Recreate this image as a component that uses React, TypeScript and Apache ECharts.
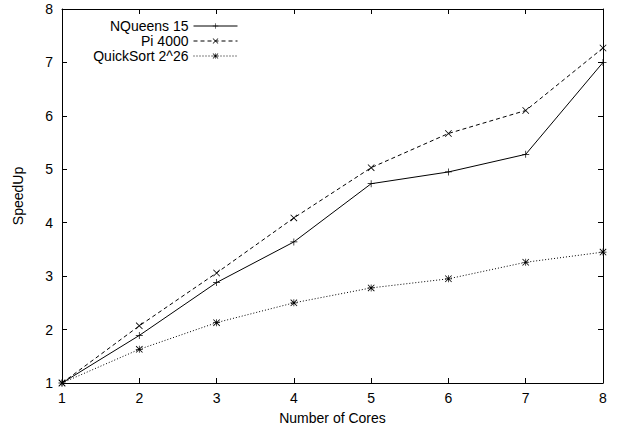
import React, { useEffect, useRef } from "react";
import * as echarts from "echarts";

const cores = [1, 2, 3, 4, 5, 6, 7, 8];
const nqueens = [1, 1.89, 2.88, 3.64, 4.73, 4.95, 5.28, 7.0];
const pi = [1, 2.07, 3.06, 4.09, 5.03, 5.67, 6.1, 7.27];
const quicksort = [1, 1.63, 2.13, 2.5, 2.78, 2.95, 3.26, 3.45];
const seriesNames = ["NQueens 15", "Pi 4000", "QuickSort 2^26"];

const PLUS = "path://M4.5 0h1v10h-1z M0 4.5h10v1h-10z";
const CROSS = "path://M0 0.8L0.8 0L10 9.2L9.2 10Z M9.2 0L10 0.8L0.8 10L0 9.2Z";
const STAR =
  "path://M4.5 0h1v10h-1z M0 4.5h10v1h-10z M0 0.8L0.8 0L10 9.2L9.2 10Z M9.2 0L10 0.8L0.8 10L0 9.2Z";

const FONT = "Liberation Sans";
const FS = 14;

export default function App() {
  const ref = useRef<HTMLDivElement>(null);
  useEffect(() => {
    if (!ref.current) return;
    const chart = echarts.init(ref.current, undefined, { renderer: "svg" });
    const pairs = (vals: number[]) => cores.map((c, i) => [c, vals[i]]);
    const axisCommon = {
      type: "value" as const,
      min: 1,
      max: 8,
      interval: 1,
      splitLine: { show: false },
      axisLine: { show: true, lineStyle: { color: "#000", width: 1 } },
      axisTick: { show: true, inside: true, length: 5, lineStyle: { color: "#000" } },
    };
    const mk = (name: string, vals: number[], symbol: string, type: any) => ({
      name,
      type: "line",
      data: pairs(vals),
      symbol,
      symbolSize: 7,
      showSymbol: true,
      itemStyle: { color: "#000" },
      lineStyle: { color: "#000", width: 1, type },
      emphasis: { disabled: true },
    });
    chart.setOption({
      animation: false,
      backgroundColor: "#fff",
      textStyle: { fontFamily: FONT },
      grid: { left: 62, right: 14, top: 9, bottom: 47 },
      legend: {
        orient: "vertical",
        right: 374,
        top: 14,
        align: "right",
        itemWidth: 44,
        itemHeight: 7,
        itemGap: 1,
        lineStyle: { width: 1 },
        textStyle: { fontFamily: FONT, fontSize: FS, lineHeight: 14, color: "#000" },
        data: seriesNames,
        selectedMode: false,
      },
      xAxis: [
        {
          ...axisCommon,
          position: "bottom",
          name: "Number of Cores",
          nameLocation: "middle",
          nameGap: 28,
          nameTextStyle: { fontFamily: FONT, fontSize: FS, color: "#000" },
          axisLabel: { fontFamily: FONT, fontSize: FS, color: "#000", margin: 8 },
        },
        {
          ...axisCommon,
          position: "top",
          axisLabel: { show: false },
        },
      ],
      yAxis: [
        {
          ...axisCommon,
          position: "left",
          name: "SpeedUp",
          nameLocation: "middle",
          nameGap: 37,
          nameTextStyle: { fontFamily: FONT, fontSize: FS, color: "#000" },
          axisLabel: { fontFamily: FONT, fontSize: FS, color: "#000", margin: 9 },
        },
        {
          ...axisCommon,
          position: "right",
          axisLabel: { show: false },
        },
      ],
      series: [
        mk(seriesNames[0], nqueens, PLUS, "solid"),
        mk(seriesNames[1], pi, CROSS, [4, 3]),
        mk(seriesNames[2], quicksort, STAR, [1, 2]),
      ],
    });
    return () => chart.dispose();
  }, []);
  return (
    <div
      ref={ref}
      style={{ position: "fixed", left: 0, top: 0, width: 617, height: 430 }}
    />
  );
}
